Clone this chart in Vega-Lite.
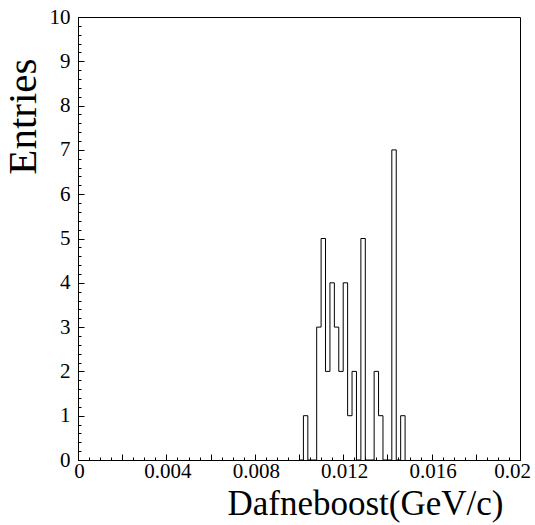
{
  "$schema": "https://vega.github.io/schema/vega-lite/v6.json",
  "width": 442,
  "height": 443,
  "autosize": {"type": "none"},
  "padding": {"left": 78, "top": 17, "right": 15, "bottom": 65},
  "background": "white",
  "config": {
    "view": {"stroke": "black", "strokeWidth": 1},
    "axis": {"domainColor": "black", "tickColor": "black", "labelColor": "black", "titleColor": "black", "labelFont": "Liberation Serif", "titleFont": "Liberation Serif", "grid": false}
  },
  "data": {
    "values": [
      {"x": 0.0100, "n": 0},
      {"x": 0.0102, "n": 1},
      {"x": 0.0104, "n": 0},
      {"x": 0.0106, "n": 0},
      {"x": 0.0108, "n": 3},
      {"x": 0.0110, "n": 5},
      {"x": 0.0112, "n": 2},
      {"x": 0.0114, "n": 4},
      {"x": 0.0116, "n": 3},
      {"x": 0.0118, "n": 2},
      {"x": 0.0120, "n": 4},
      {"x": 0.0122, "n": 1},
      {"x": 0.0124, "n": 2},
      {"x": 0.0126, "n": 0},
      {"x": 0.0128, "n": 5},
      {"x": 0.0130, "n": 0},
      {"x": 0.0132, "n": 0},
      {"x": 0.0134, "n": 2},
      {"x": 0.0136, "n": 1},
      {"x": 0.0138, "n": 0},
      {"x": 0.0140, "n": 0},
      {"x": 0.0142, "n": 7},
      {"x": 0.0144, "n": 0},
      {"x": 0.0146, "n": 1},
      {"x": 0.0148, "n": 0}
    ]
  },
  "layer": [
    {
      "mark": {"type": "line", "interpolate": "step-after", "strokeOpacity": 0},
      "encoding": {
        "x": {"field": "x", "type": "quantitative", "scale": {"domain": [0, 0.02], "nice": false, "zero": false},
          "axis": {"orient": "bottom", "values": [0,0.0005,0.001,0.0015,0.002,0.0025,0.003,0.0035,0.004,0.0045,0.005,0.0055,0.006,0.0065,0.007,0.0075,0.008,0.0085,0.009,0.0095,0.01,0.0105,0.011,0.0115,0.012,0.0125,0.013,0.0135,0.014,0.0145,0.015,0.0155,0.016,0.0165,0.017,0.0175,0.018,0.0185,0.019,0.0195,0.02],
            "labels": false, "title": null, "domain": false, "tickSize": -3}},
        "y": {"field": "n", "type": "quantitative", "scale": {"domain": [0, 10], "nice": false},
          "axis": {"orient": "left", "values": [0,0.2,0.4,0.6,0.8,1,1.2,1.4,1.6,1.8,2,2.2,2.4,2.6,2.8,3,3.2,3.4,3.6,3.8,4,4.2,4.4,4.6,4.8,5,5.2,5.4,5.6,5.8,6,6.2,6.4,6.6,6.8,7,7.2,7.4,7.6,7.8,8,8.2,8.4,8.6,8.8,9,9.2,9.4,9.6,9.8,10],
            "labels": false, "title": null, "domain": false, "tickSize": -3}}
      }
    },
    {
      "mark": {"type": "line", "interpolate": "step-after", "color": "black", "strokeWidth": 1},
      "encoding": {
        "x": {"field": "x", "type": "quantitative", "scale": {"domain": [0, 0.02], "nice": false, "zero": false},
          "axis": {"orient": "bottom", "values": [0,0.002,0.004,0.006,0.008,0.01,0.012,0.014,0.016,0.018,0.02],
            "format": "~g",
            "labelExpr": "round(datum.value*1000) % 4 == 0 ? datum.label : ''",
            "labelOffset": {"condition": {"test": "datum.value > 0.019", "value": -8}, "value": 1},
            "tickSize": -6, "labelPadding": 6, "labelFontSize": 21, "labelFlush": false,
            "title": "Dafneboost(GeV/c)", "titleFontSize": 35, "titleFontWeight": "normal",
            "titleAnchor": "end", "titleAlign": "right", "titleBaseline": "alphabetic", "titleX": 425, "titleY": 54}},
        "y": {"field": "n", "type": "quantitative", "scale": {"domain": [0, 10], "nice": false},
          "axis": {"orient": "left", "values": [0,1,2,3,4,5,6,7,8,9,10],
            "tickSize": -6, "labelPadding": 14, "labelFontSize": 21, "labelFlush": false,
            "title": "Entries", "titleFontSize": 41, "titleFontWeight": "normal",
            "titleAngle": -90, "titleAlign": "right", "titleBaseline": "alphabetic", "titleX": -43, "titleY": 41}}
      }
    }
  ],
  "resolve": {"axis": {"x": "independent", "y": "independent"}}
}
